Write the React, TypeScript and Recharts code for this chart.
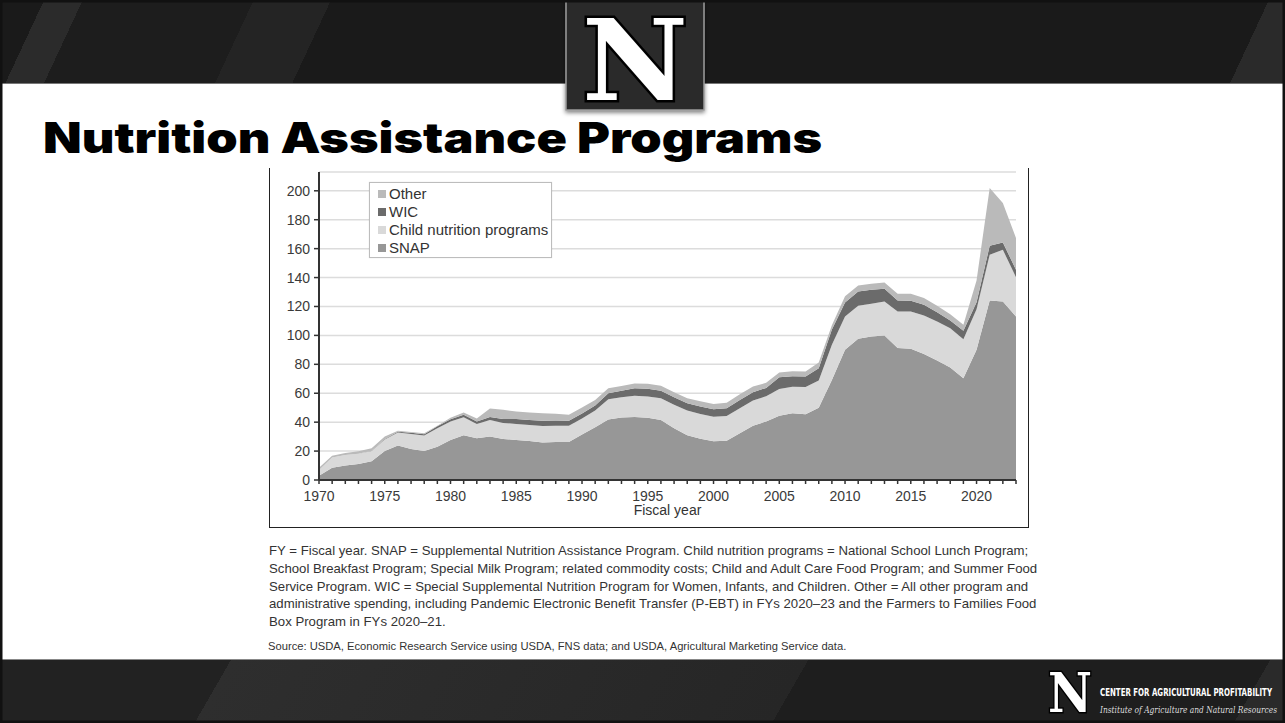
import React from 'react';
import { AreaChart, Area, XAxis, YAxis, CartesianGrid } from 'recharts';

const years = [
  1970, 1971, 1972, 1973, 1974, 1975, 1976, 1977, 1978, 1979,
  1980, 1981, 1982, 1983, 1984, 1985, 1986, 1987, 1988, 1989,
  1990, 1991, 1992, 1993, 1994, 1995, 1996, 1997, 1998, 1999,
  2000, 2001, 2002, 2003, 2004, 2005, 2006, 2007, 2008, 2009,
  2010, 2011, 2012, 2013, 2014, 2015, 2016, 2017, 2018, 2019,
  2020, 2021, 2022, 2023,
];

const snap = [
  3, 8.5, 10, 11, 13, 20, 23.8, 21.5, 20, 23,
  27.7, 31, 28.8, 30, 28.4, 27.6, 27, 26, 26.3, 26.2,
  31.5, 36.5, 41.8, 43.2, 43.6, 43, 41.5, 35.8, 31, 28.6,
  26.8, 27.2, 32.3, 37.6, 40.4, 44.5, 46.2, 45.5, 50, 69.2,
  90, 97.6, 99.2, 100, 91.2, 90.7, 87.2, 82.6, 77.8, 70.4,
  90, 124.2, 123.5, 113,
];

const childNutrition = [
  4, 7, 7.3, 7.2, 7, 8, 9, 10.3, 10.7, 12.8,
  12.7, 12.4, 10, 11.5, 11, 11.2, 11, 11.4, 11.3, 11.4,
  11, 11.5, 14, 14, 14.6, 14.7, 15, 16.2, 17, 17,
  17, 17.1, 17.3, 17.4, 17.5, 18.5, 18.3, 18.8, 18.8, 24.3,
  23, 22.9, 22.7, 23.5, 25.3, 25.8, 26.6, 27, 27.2, 27,
  28, 31.6, 35.7, 27.3,
];

const wic = [
  0, 0, 0, 0, 0.2, 0.4, 0.6, 0.8, 1, 1.3,
  1.6, 1.8, 1.6, 2, 2.8, 3.3, 3.5, 3.6, 3.5, 3.4,
  3.5, 3.6, 4.2, 4.6, 5.3, 5.4, 5.2, 5.2, 5, 5.3,
  5.2, 5.3, 5.8, 5.7, 5.8, 8, 7.2, 7.2, 8.5, 10.5,
  9.8, 9.9, 9.6, 8.7, 7.7, 7.5, 7.4, 6.4, 5.3, 5.8,
  5, 6.2, 5.1, 5.1,
];

const other = [
  1.5, 1.3, 1.4, 1.6, 1.7, 1.6, 0.6, 0.6, 0.6, 0.5,
  1, 1.4, 2.2, 6, 6.3, 5.3, 5.2, 5.2, 4.8, 4.2,
  4.2, 3.7, 3.5, 3.2, 3.3, 3.4, 3.4, 3.5, 3.5, 3.6,
  3.6, 3.9, 3.9, 3.9, 3.5, 3.3, 3.5, 3.5, 3.9, 3,
  4.2, 4.1, 4.2, 4.4, 4.6, 4.8, 4.6, 4.5, 4.4, 4.1,
  15, 40, 27.2, 21.9,
];

const yTicks = [0, 20, 40, 60, 80, 100, 120, 140, 160, 180, 200];
const xLabelStep = 5;

const seriesNames = ['SNAP', 'Child nutrition programs', 'WIC', 'Other'];
const seriesKeys = ['snap', 'child', 'wic', 'other'];
const seriesColors = ['#979797', '#d9d9d9', '#6b6b6b', '#bababa'];

const footnoteLines = [
  'FY = Fiscal year. SNAP = Supplemental Nutrition Assistance Program. Child nutrition programs = National School Lunch Program;',
  'School Breakfast Program; Special Milk Program; related commodity costs; Child and Adult Care Food Program; and Summer Food',
  'Service Program. WIC = Special Supplemental Nutrition Program for Women, Infants, and Children. Other = All other program and',
  'administrative spending, including Pandemic Electronic Benefit Transfer (P-EBT) in FYs 2020\u201323 and the Farmers to Families Food',
  'Box Program in FYs 2020\u201321.',
];
const sourceLine = 'Source: USDA, Economic Research Service using USDA, FNS data; and USDA, Agricultural Marketing Service data.';

const data = years.map((y, i) => ({
  year: y,
  snap: snap[i],
  child: childNutrition[i],
  wic: wic[i],
  other: other[i],
}));

const FONT = '"Liberation Sans", Arial, Helvetica, sans-serif';

const XTick = (props: any) => {
  const { x, y, payload } = props;
  const v = payload.value as number;
  if (v % xLabelStep !== 0) return null;
  return (
    <text x={x} y={y} dy="0.71em" textAnchor="middle" fontSize={14} fill="#3a3a3a" fontFamily={FONT}>
      {v}
    </text>
  );
};

const LegendBox = () => {
  const order = [3, 2, 1, 0];
  return (
    <div
      style={{
        position: 'absolute',
        left: 99,
        top: 14,
        width: 183,
        height: 76,
        border: '1px solid #bdbdbd',
        background: '#fff',
        boxSizing: 'border-box',
        padding: '2px 0 0 8px',
        fontFamily: FONT,
        fontSize: 15,
        color: '#333',
        boxShadow: '0 0 1px rgba(0,0,0,0.15)',
      }}
    >
      {order.map((i) => (
        <div key={seriesKeys[i]} style={{ display: 'flex', alignItems: 'center', height: 18, lineHeight: '18px' }}>
          <span style={{ display: 'inline-block', width: 8, height: 8, background: seriesColors[i], marginRight: 3 }} />
          <span>{seriesNames[i]}</span>
        </div>
      ))}
    </div>
  );
};

const stripes =
  'linear-gradient(115deg, #1a1a1a 0px, #1a1a1a 40px, #2b2b2b 40px, #2b2b2b 75px, #1d1d1d 75px, #1d1d1d 230px, #242424 230px, #242424 300px, #1a1a1a 300px, #1a1a1a 1150px, #2a2a2a 1150px, #2a2a2a 1250px, #1c1c1c 1250px)';

export default function App() {
  return (
    <div
      style={{
        position: 'absolute',
        left: 0,
        top: 0,
        width: 1285,
        height: 723,
        background: '#ffffff',
        overflow: 'hidden',
        fontFamily: FONT,
      }}
    >
      {/* header band */}
      <div style={{ position: 'absolute', left: 0, top: 0, width: 1285, height: 83, background: stripes, borderBottom: '1px solid #777' }} />
      {/* footer band */}
      <div style={{ position: 'absolute', left: 0, top: 659, width: 1285, height: 64, background: 'linear-gradient(120deg, #222 0px, #222 200px, #2e2e2e 200px, #262626 700px, #1e1e1e 700px, #1e1e1e 1100px, #2a2a2a 1100px)', borderTop: '1px solid #888' }} />

      <svg width={1285} height={723} style={{ position: 'absolute', left: 0, top: 0 }}>
        <defs>
          <filter id="sh" x="-20%" y="-20%" width="140%" height="140%">
            <feDropShadow dx="0" dy="2" stdDeviation="2" floodColor="#000" floodOpacity="0.5" />
          </filter>
        </defs>
        {/* header logo box */}
        <rect x={566} y={-2} width={138} height={112} fill="#2c2c2c" stroke="#9a9a9a" strokeWidth={1.5} filter="url(#sh)" />
        <text
          x={635}
          y={100}
          textAnchor="middle"
          fontFamily='"DejaVu Serif", serif'
          fontWeight="bold"
          fontSize={112}
          fill="#ffffff"
          stroke="#000"
          strokeWidth={5}
          paintOrder="stroke"
          textLength={106}
          lengthAdjust="spacingAndGlyphs"
        >
          N
        </text>
        {/* title */}
        <text
          x={43}
          y={153}
          fontFamily='Inter, "DejaVu Sans", sans-serif'
          fontWeight={900}
          fontSize={42}
          fill="#000"
          textLength={779}
          lengthAdjust="spacingAndGlyphs"
        >
          Nutrition Assistance Programs
        </text>
        {/* footer logo */}
        <text
          x={1070}
          y={712}
          textAnchor="middle"
          fontFamily='"DejaVu Serif", serif'
          fontWeight="bold"
          fontSize={54}
          fill="#ffffff"
          stroke="#000"
          strokeWidth={3}
          paintOrder="stroke"
          textLength={44}
          lengthAdjust="spacingAndGlyphs"
        >
          N
        </text>
        <text
          x={1100}
          y={696}
          fontFamily='"DejaVu Sans Condensed", "DejaVu Sans", sans-serif'
          fontWeight="bold"
          fontSize={11}
          fill="#ffffff"
          textLength={172}
          lengthAdjust="spacingAndGlyphs"
        >
          CENTER FOR AGRICULTURAL PROFITABILITY
        </text>
        <text
          x={1100}
          y={713}
          fontFamily='"DejaVu Serif", "Liberation Serif", serif'
          fontStyle="italic"
          fontSize={9.5}
          fill="#dddddd"
          textLength={177}
          lengthAdjust="spacingAndGlyphs"
        >
          Institute of Agriculture and Natural Resources
        </text>
        {/* slide border */}
        <rect x={1} y={1} width={1283} height={721} fill="none" stroke="#111" strokeWidth={3} />
      </svg>

      {/* chart frame */}
      <div
        style={{
          position: 'absolute',
          left: 269,
          top: 168,
          width: 758,
          height: 359,
          borderLeft: '1.5px solid #222',
          borderRight: '1.5px solid #222',
          borderBottom: '1.5px solid #222',
        }}
      >
        <div style={{ position: 'absolute', left: 0, top: 0 }}>
          <AreaChart width={758} height={359} data={data} margin={{ top: 4, right: 12, bottom: 0, left: 0 }}>
            <CartesianGrid vertical={false} stroke="#dcdcdc" strokeWidth={1.5} />
            <XAxis
              dataKey="year"
              type="number"
              domain={[1970, 2023]}
              ticks={years}
              interval={0}
              height={47}
              tick={<XTick />}
              tickSize={4}
              tickMargin={7}
              axisLine={{ stroke: '#333', strokeWidth: 2 }}
              tickLine={{ stroke: '#333', strokeWidth: 1.5 }}
              label={{ value: 'Fiscal year', position: 'insideBottom', offset: 12, fontSize: 14, fill: '#333', fontFamily: FONT }}
            />
            <YAxis
              type="number"
              domain={[0, 213]}
              ticks={yTicks}
              interval={0}
              width={49}
              tickSize={5}
              tickMargin={4}
              allowDataOverflow
              axisLine={{ stroke: '#333', strokeWidth: 2 }}
              tickLine={{ stroke: '#333', strokeWidth: 1.5 }}
              tick={{ fontSize: 14, fill: '#3a3a3a', fontFamily: FONT }}
            />
            {seriesKeys.map((k, i) => (
              <Area
                key={k}
                type="linear"
                dataKey={k}
                name={seriesNames[i]}
                stackId="a"
                stroke="none"
                fill={seriesColors[i]}
                fillOpacity={1}
                dot={false}
                activeDot={false}
                isAnimationActive={false}
              />
            ))}
          </AreaChart>
        </div>
        <LegendBox />
      </div>

      {/* footnotes */}
      <div
        style={{
          position: 'absolute',
          left: 269,
          top: 542,
          fontSize: 13.2,
          lineHeight: '17.8px',
          color: '#333',
          fontFamily: FONT,
          whiteSpace: 'nowrap',
        }}
      >
        {footnoteLines.map((l, i) => (
          <div key={i}>{l}</div>
        ))}
      </div>
      <div
        style={{
          position: 'absolute',
          left: 268,
          top: 639,
          fontSize: 11.2,
          lineHeight: '14px',
          color: '#333',
          fontFamily: FONT,
          whiteSpace: 'nowrap',
        }}
      >
        {sourceLine}
      </div>
    </div>
  );
}
